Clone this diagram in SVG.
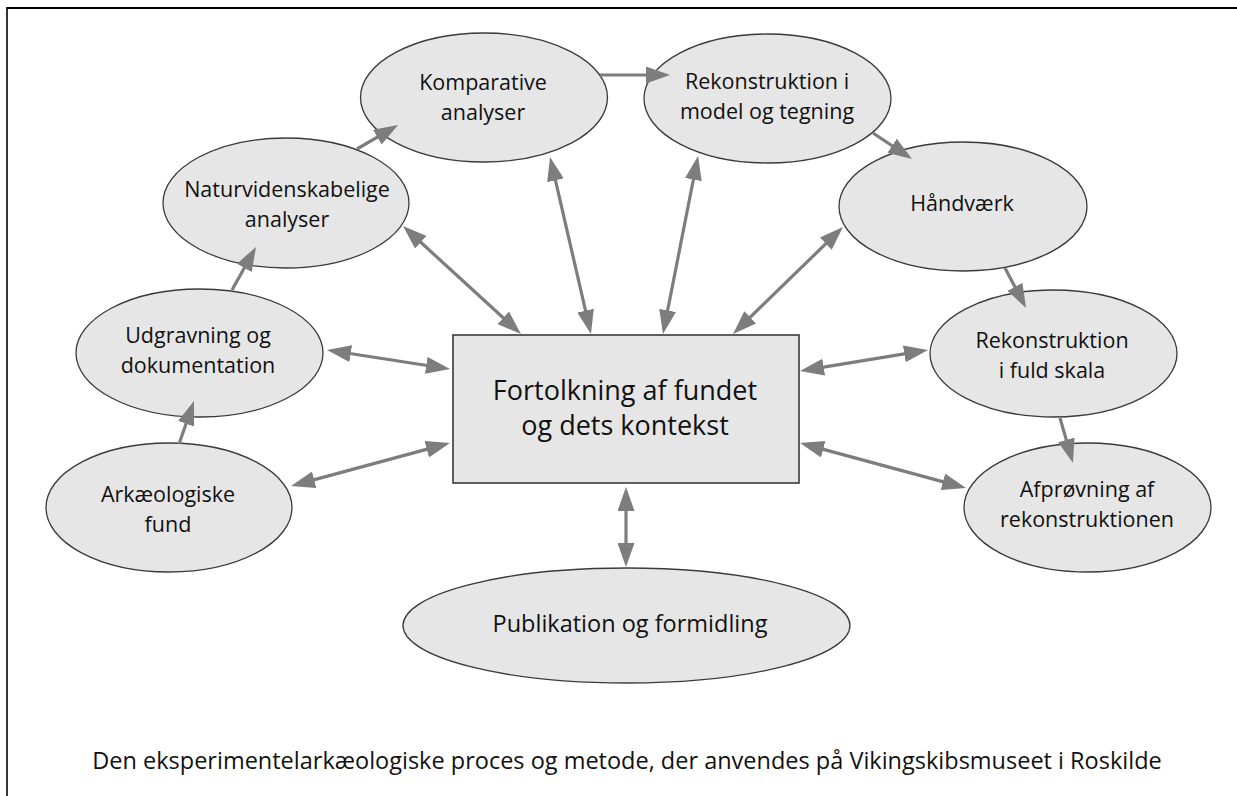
<svg xmlns="http://www.w3.org/2000/svg" width="1237" height="796" viewBox="0 0 1237 796">
<style>
  .node ellipse, .node rect { fill: #e6e6e6; stroke: #3a3a3a; stroke-width: 1.3; }
  .node rect { stroke-width: 1.6; }
  .lbl { font-family: "Open Sans", Lato, sans-serif; font-size: 21.5px; fill: #111; text-anchor: middle; }
  .big { font-size: 27px; }
  .pub { font-size: 23.5px; }
  .cap { font-family: "Open Sans", Lato, sans-serif; font-size: 23.5px; fill: #111; text-anchor: middle; }
  .conn line { stroke: #7d7d7d; stroke-width: 3.2; fill: none; }
  .one { marker-end: url(#ah); }
  .two { marker-start: url(#ah); marker-end: url(#ah); }
</style>
<defs>
  <marker id="ah" markerUnits="userSpaceOnUse" viewBox="0 0 24 17" markerWidth="24" markerHeight="17" refX="14" refY="8.5" orient="auto-start-reverse">
    <path d="M0,0 L24,8.5 L0,17 z" fill="#7d7d7d"/>
  </marker>
</defs>
<rect x="0" y="0" width="1237" height="796" fill="#ffffff"/>
<g id="frame">
  <line x1="7" y1="8" x2="1237" y2="8" stroke="#000" stroke-width="2.2"/>
  <line x1="7" y1="7" x2="7" y2="796" stroke="#000" stroke-width="1.6"/>
</g>
<g id="center" class="node">
  <rect x="453" y="335" width="346" height="148"/>
  <text class="lbl big" x="625" y="400">Fortolkning af fundet</text>
  <text class="lbl big" x="625" y="435">og dets kontekst</text>
</g>
<g id="komparative" class="node">
  <ellipse cx="484" cy="97.5" rx="123.5" ry="64.5"/>
  <text class="lbl" x="483" y="90">Komparative</text>
  <text class="lbl" x="483" y="120">analyser</text>
</g>
<g id="rekonstruktion-model" class="node">
  <ellipse cx="767.5" cy="98.5" rx="123.5" ry="64.5"/>
  <text class="lbl" x="767" y="89">Rekonstruktion i</text>
  <text class="lbl" x="767" y="119">model og tegning</text>
</g>
<g id="naturvidenskabelige" class="node">
  <ellipse cx="286" cy="203" rx="123" ry="65"/>
  <text class="lbl" x="287" y="197">Naturvidenskabelige</text>
  <text class="lbl" x="287" y="227">analyser</text>
</g>
<g id="haandvaerk" class="node">
  <ellipse cx="963" cy="206.5" rx="124" ry="64.5"/>
  <text class="lbl" x="962" y="211">Håndværk</text>
</g>
<g id="udgravning" class="node">
  <ellipse cx="199.5" cy="353" rx="123.5" ry="64"/>
  <text class="lbl" x="198" y="343">Udgravning og</text>
  <text class="lbl" x="198" y="373">dokumentation</text>
</g>
<g id="rekonstruktion-fuld" class="node">
  <ellipse cx="1053.5" cy="353.5" rx="123.5" ry="63.5"/>
  <text class="lbl" x="1052" y="348">Rekonstruktion</text>
  <text class="lbl" x="1052" y="378">i fuld skala</text>
</g>
<g id="arkaeologiske" class="node">
  <ellipse cx="169" cy="507.5" rx="123" ry="64.5"/>
  <text class="lbl" x="168" y="502">Arkæologiske</text>
  <text class="lbl" x="168" y="532">fund</text>
</g>
<g id="afproevning" class="node">
  <ellipse cx="1087.5" cy="507.5" rx="123.5" ry="64.5"/>
  <text class="lbl" x="1087" y="497">Afprøvning af</text>
  <text class="lbl" x="1087" y="527">rekonstruktionen</text>
</g>
<g id="publikation" class="node">
  <ellipse cx="626.5" cy="625.5" rx="223.5" ry="57.5"/>
  <text class="lbl pub" x="630" y="632">Publikation og formidling</text>
</g>
<g id="connectors" class="conn">
  <line class="one" x1="179" y1="444" x2="190.7" y2="410.5"/>
  <line class="one" x1="232" y1="290" x2="251.1" y2="255.7"/>
  <line class="one" x1="357" y1="149" x2="389.4" y2="130.1"/>
  <line class="one" x1="600" y1="75" x2="660" y2="75"/>
  <line class="one" x1="873" y1="133" x2="903.7" y2="153.5"/>
  <line class="one" x1="1005" y1="268" x2="1021.4" y2="299.2"/>
  <line class="one" x1="1060" y1="418" x2="1070.2" y2="453.4"/>
  <line class="two" x1="336.9" y1="351.5" x2="440.1" y2="367.5"/>
  <line class="two" x1="300.7" y1="483.4" x2="440.3" y2="445.6"/>
  <line class="two" x1="410.4" y1="232.8" x2="513.6" y2="327.3"/>
  <line class="two" x1="552.3" y1="166.7" x2="588.7" y2="324.3"/>
  <line class="two" x1="696.1" y1="165.8" x2="664.9" y2="324.2"/>
  <line class="two" x1="835.8" y1="234" x2="740.2" y2="327"/>
  <line class="two" x1="809.9" y1="369.4" x2="918.1" y2="351.6"/>
  <line class="two" x1="809.7" y1="445.6" x2="956.4" y2="485.4"/>
  <line class="two" x1="626" y1="497" x2="626" y2="557"/>
</g>
<text class="cap" x="627" y="769">Den eksperimentelarkæologiske proces og metode, der anvendes på Vikingskibsmuseet i Roskilde</text>
</svg>
